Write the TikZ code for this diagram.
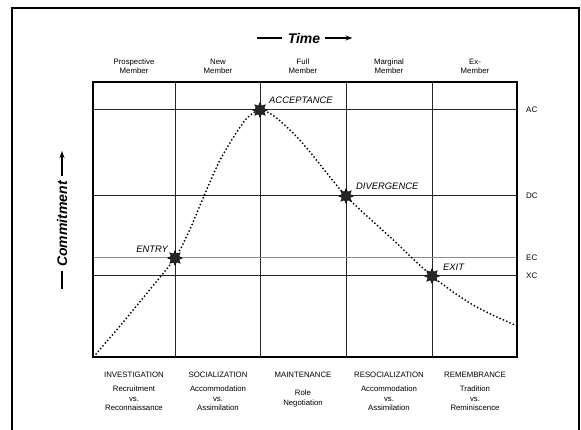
\documentclass[tikz,border=0pt]{standalone}
\usepackage{fontspec}
\setmainfont{Liberation Sans}
\usetikzlibrary{shapes.geometric, arrows.meta, positioning}
\tikzset{
    stagetext/.style={font=\fontsize{7.8}{9.2}\selectfont, align=center, inner sep=0pt},
    phasetext/.style={font=\fontsize{7.8}{9.6}\selectfont, align=center, inner sep=0pt},
    pointtag/.style={font=\fontsize{9.4}{11}\selectfont\itshape, inner sep=0pt},
    leveltag/.style={font=\fontsize{8}{10}\selectfont, inner sep=0pt, anchor=west},
    event/.style={star, star points=8, star point ratio=1.8, minimum size=15pt, inner sep=0pt, fill=black!85, draw=black, line width=0.4pt},
    gridline/.style={line width=1pt, black!85},
    commitcurve/.style={line width=2pt, line cap=round, dash pattern=on 0pt off 3.6pt},
    axisline/.style={line width=1.6pt, >={Stealth[length=7pt,width=5pt]}},
    axistext/.style={font=\fontsize{14}{16}\selectfont\bfseries\itshape, inner sep=0pt}
}

\begin{document}
\begin{tikzpicture}[x=1pt, y=-1pt]
    \useasboundingbox (0,0) rectangle (581,430);
    % Outer frame
    \draw[line width=1.5pt] (12,8) rectangle (579,445);

    % Time axis
    \node[axistext] (time) at (304,38) {Time};
    \draw[axisline] ([xshift=-6pt]time.west) -- ++(-25,0);
    \draw[axisline,->] ([xshift=5pt]time.east) -- ++(27,0);

    % Commitment axis
    \node[axistext, rotate=90] (commit) at (62,224) {Commitment};
    \draw[axisline] ([yshift=-4pt]commit.west) -- ++(0,18);
    \draw[axisline,->] ([yshift=5pt]commit.east) -- ++(0,-25);

    % Member roles
    \node[stagetext] (prospective) at (134,66) {Prospective\\Member};
    \node[stagetext] (newmember) at (218,66) {New\\Member};
    \node[stagetext] (fullmember) at (303,66) {Full\\Member};
    \node[stagetext] (marginal) at (389,66) {Marginal\\Member};
    \node[stagetext] (exmember) at (475,66) {Ex-\\Member};

    % Grid
    \draw[gridline] (175,82) -- (175,357);
    \draw[gridline] (260,82) -- (260,357);
    \draw[gridline] (346,82) -- (346,357);
    \draw[gridline] (432,82) -- (432,357);
    \draw[gridline] (93,110) -- (517,110);
    \draw[gridline] (93,196) -- (517,196);
    \draw[gridline, black!45] (93,258) -- (517,258);
    \draw[gridline] (93,276) -- (517,276);
    \draw[line width=2.2pt] (93,82) rectangle (517,357);

    % Criterion levels
    \node[leveltag] (ac) at (526,110) {AC};
    \node[leveltag] (dc) at (526,196) {DC};
    \node[leveltag] (ec) at (526,258) {EC};
    \node[leveltag] (xc) at (526,276) {XC};

    % Commitment curve
    \coordinate (entrypt) at (175,258);
    \coordinate (accpt) at (260,110);
    \coordinate (divpt) at (346,196);
    \coordinate (exitpt) at (432,276);
    \draw[commitcurve] plot[smooth] coordinates {(96,354) (120,326) (143,298) (entrypt) (190,229) (204,196) (219,162) (233,138) (247,118) (accpt) (274,116) (293,133) (310,152) (divpt) (389,236) (exitpt) (473,305) (517,326)};

    % Role transitions
    \node[event] (entry) at (entrypt) {};
    \node[event] (acc) at (accpt) {};
    \node[event] (div) at (divpt) {};
    \node[event] (exit) at (exitpt) {};
    \node[pointtag, anchor=east, xshift=-7pt, yshift=9pt] (entrytag) at (entry) {ENTRY};
    \node[pointtag, anchor=west, xshift=9pt, yshift=10pt] (acctag) at (acc) {ACCEPTANCE};
    \node[pointtag, anchor=west, xshift=10pt, yshift=10pt] (divtag) at (div) {DIVERGENCE};
    \node[pointtag, anchor=west, xshift=11pt, yshift=8.5pt] (exittag) at (exit) {EXIT};

    % Phases
    \node[phasetext] (investigation) at (134,375) {INVESTIGATION};
    \node[phasetext] (socialization) at (218,375) {SOCIALIZATION};
    \node[phasetext] (maintenance) at (303,375) {MAINTENANCE};
    \node[phasetext] (resocialization) at (389,375) {RESOCIALIZATION};
    \node[phasetext] (remembrance) at (475,375) {REMEMBRANCE};
    \node[phasetext] (investigationsub) at (134,398.5) {Recruitment\\vs.\\Reconnaissance};
    \node[phasetext] (socializationsub) at (218,398.5) {Accommodation\\vs.\\Assimilation};
    \node[phasetext] (maintenancesub) at (303,398.5) {Role\\Negotiation};
    \node[phasetext] (resocializationsub) at (389,398.5) {Accommodation\\vs.\\Assimilation};
    \node[phasetext] (remembrancesub) at (475,398.5) {Tradition\\vs.\\Reminiscence};
\end{tikzpicture}
\end{document}
